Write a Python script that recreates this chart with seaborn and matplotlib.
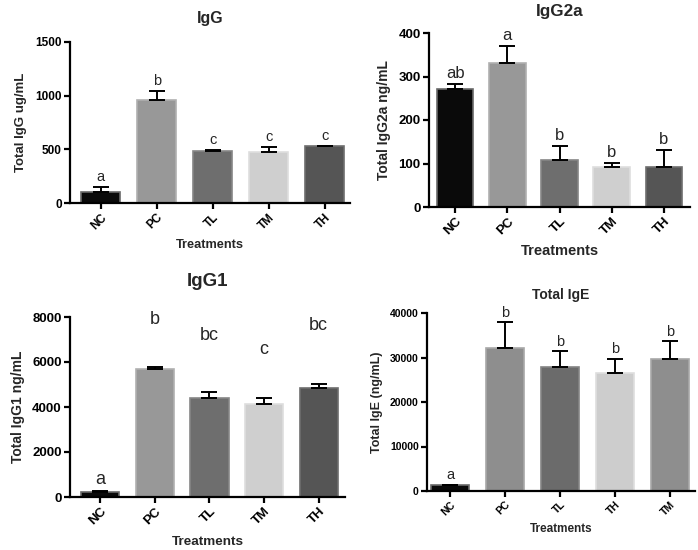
import matplotlib
matplotlib.use("Agg")
import matplotlib.pyplot as plt
import seaborn as sns
import numpy as np

sns.set_style("white")
plt.rcParams['font.family'] = ['Liberation Sans', 'DejaVu Sans']
plt.rcParams['font.weight'] = 'bold'

# ---------------- data ----------------
cats_main = ["NC", "PC", "TL", "TM", "TH"]
cats_ige = ["NC", "PC", "TL", "TH", "TM"]

igg_mean = [100, 960, 484, 475, 530]
igg_top = [150, 1046, 497, 521, 535]
igg_letters = ["a", "b", "c", "c", "c"]

igg2a_mean = [271, 332, 107, 91, 91]
igg2a_top = [283, 371, 141, 101, 131]
igg2a_letters = ["ab", "a", "b", "b", "b"]

igg1_mean = [207, 5704, 4400, 4148, 4844]
igg1_top = [267, 5763, 4667, 4400, 5037]
igg1_letters = ["a", "b", "bc", "c", "bc"]

ige_mean = [1280, 32100, 27970, 26470, 29700]
ige_top = [1430, 37900, 31350, 29620, 33600]
ige_letters = ["a", "b", "b", "b", "b"]

col_main = ["#0a0a0a", "#989898", "#6e6e6e", "#cfcfcf", "#555555"]
edge_main = ["#6a6a6a", "#b0b0b0", "#868686", "#dedede", "#6e6e6e"]
col_ige = ["#0a0a0a", "#8e8e8e", "#6b6b6b", "#cdcdcd", "#8e8e8e"]
edge_ige = ["#6a6a6a", "#a8a8a8", "#848484", "#dedede", "#a8a8a8"]

W, H = 698, 550
fig = plt.figure(figsize=(W / 100, H / 100), dpi=100)


def add_ax(left, top, right, bottom):
    return fig.add_axes([left / W, 1 - bottom / H, (right - left) / W, (bottom - top) / H])


def panel(ax, cats, mean, top, letters, colors, edges, title, ylabel, ylim, yticks,
          xlim, tfs, xtfs, lfs, xlfs, titfs, letfs, letter_y=None, title_pad=10,
          xlab_pad=6, ylab_pad=4):
    sns.barplot(x=cats, y=mean, hue=cats, palette=colors, legend=False, ax=ax,
                width=0.7, saturation=1, linewidth=1.2, errorbar=None)
    for p, e in zip(ax.patches, edges):
        p.set_edgecolor(e)
    x = np.arange(len(cats))
    m = np.array(mean)
    up = np.array(top) - m
    ax.errorbar(x, m, yerr=[np.zeros_like(up), up], fmt='none', ecolor='black',
                elinewidth=1.4, capsize=6, capthick=1.4, zorder=5)
    for i, L in enumerate(letters):
        if letter_y is None or letter_y[i] is None:
            ax.annotate(L, (x[i], top[i]), xytext=(0, 2), textcoords='offset points',
                        ha='center', va='bottom', fontsize=letfs, fontweight='normal')
        else:
            ax.text(x[i], letter_y[i], L, ha='center', va='center',
                    fontsize=letfs, fontweight='normal')
    ax.set_xlim(*xlim)
    ax.set_ylim(*ylim)
    ax.set_yticks(yticks)
    ax.set_yticklabels([str(t) for t in yticks], fontsize=tfs, fontweight='bold')
    ax.set_xticks(x)
    ax.set_xticklabels(cats, rotation=45, ha='right', va='top', rotation_mode='anchor',
                       fontsize=xtfs, fontweight='bold')
    ax.set_title(title, fontsize=titfs, fontweight='bold', pad=title_pad)
    ax.set_ylabel(ylabel, fontsize=lfs, fontweight='bold', labelpad=ylab_pad)
    ax.set_xlabel("Treatments", fontsize=xlfs, fontweight='bold', labelpad=xlab_pad)
    sns.despine(ax=ax)
    for s in ("left", "bottom"):
        ax.spines[s].set_linewidth(1.6)
        ax.spines[s].set_color("black")
    ax.tick_params(axis='both', direction='out', length=4, width=1.6, colors='black',
                   bottom=True, left=True, pad=2)


ax1 = add_ax(70, 42, 350, 203)
panel(ax1, cats_main, igg_mean, igg_top, igg_letters, col_main, edge_main,
      "IgG", "Total IgG ug/mL", (0, 1500), [0, 500, 1000, 1500], (-0.55, 4.45),
      8.5, 8.5, 9.5, 9.2, 11.5, 10.5, title_pad=14, xlab_pad=5, ylab_pad=6)

ax2 = add_ax(429, 33, 690, 207)
panel(ax2, cats_main, igg2a_mean, igg2a_top, igg2a_letters, col_main, edge_main,
      "IgG2a", "Total IgG2a ng/mL", (0, 400), [0, 100, 200, 300, 400], (-0.5, 4.5),
      9.5, 9.5, 10, 10.5, 12.3, 12, title_pad=12, xlab_pad=5, ylab_pad=5)

ax3 = add_ax(70, 317, 345, 497)
panel(ax3, cats_main, igg1_mean, igg1_top, igg1_letters, col_main, edge_main,
      "IgG1", "Total IgG1 ng/mL", (0, 8000), [0, 2000, 4000, 6000, 8000], (-0.55, 4.48),
      9.5, 9.5, 10, 9.7, 13.5, 13, letter_y=[None, 7880, 7190, 6550, 7610],
      title_pad=22, xlab_pad=6, ylab_pad=5)

ax4 = add_ax(427, 313, 695, 491)
panel(ax4, cats_ige, ige_mean, ige_top, ige_letters, col_ige, edge_ige,
      "Total IgE", "Total IgE (ng/mL)", (0, 40000), [0, 10000, 20000, 30000, 40000],
      (-0.42, 4.46), 7.5, 7.5, 9, 8.5, 10, 10.5, title_pad=10, xlab_pad=4, ylab_pad=5)

fig.savefig("out.png", dpi=100, facecolor="white")
